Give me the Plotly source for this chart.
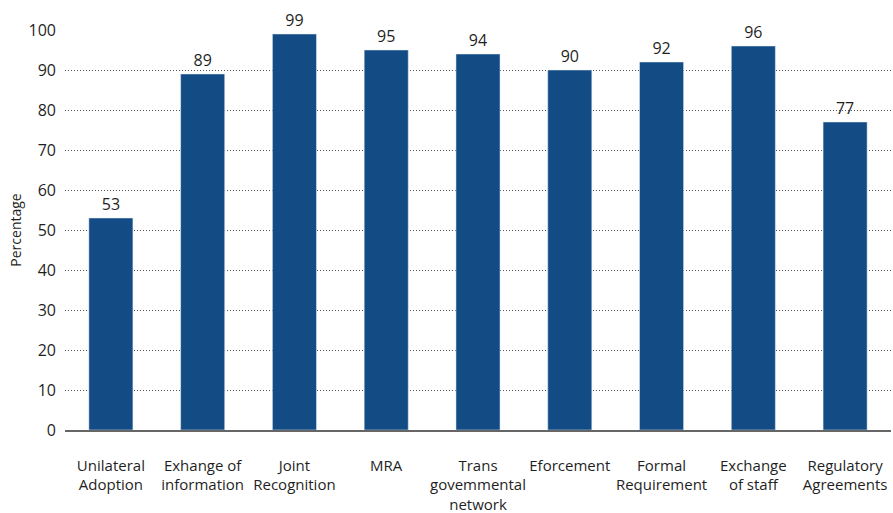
import plotly.graph_objects as go

categories = [
    "Unilateral<br>Adoption",
    "Exhange of<br>information",
    "Joint<br>Recognition",
    "MRA",
    "Trans<br>govemmental<br>network",
    "Eforcement",
    "Formal<br>Requirement",
    "Exchange<br>of staff",
    "Regulatory<br>Agreements",
]
values = [53, 89, 99, 95, 94, 90, 92, 96, 77]
y_ticks = list(range(0, 101, 10))

FONT = "Open Sans, Noto Sans, sans-serif"
BAR_COLOR = "#134c85"
TEXT_COLOR = "#1f1f1f"

fig = go.Figure(
    go.Bar(
        x=categories,
        y=values,
        marker_color=BAR_COLOR,
        width=0.48,
        text=[str(v) for v in values],
        textposition="outside",
        textfont=dict(family=FONT, size=16, color=TEXT_COLOR),
        cliponaxis=False,
    )
)

fig.update_layout(
    width=893,
    height=513,
    margin=dict(l=65, r=2, t=30, b=83),
    paper_bgcolor="white",
    plot_bgcolor="white",
    showlegend=False,
    font=dict(family=FONT, size=15, color=TEXT_COLOR),
    xaxis=dict(
        automargin=False,
        tickfont=dict(family=FONT, size=15, color=TEXT_COLOR),
        showline=True,
        linecolor="#666666",
        linewidth=1.5,
        ticks="",
        ticklabelstandoff=21,
    ),
    yaxis=dict(
        automargin=False,
        range=[0, 100],
        tickvals=y_ticks,
        tickfont=dict(family=FONT, size=16, color=TEXT_COLOR),
        showgrid=True,
        gridcolor="#555555",
        griddash="1px,2px",
        gridwidth=1,
        zeroline=False,
        ticks="",
        ticklabelstandoff=8,
        title=dict(text="Percentage", font=dict(family=FONT, size=14, color=TEXT_COLOR), standoff=3),
    ),
)

fig.write_html("out.html")
